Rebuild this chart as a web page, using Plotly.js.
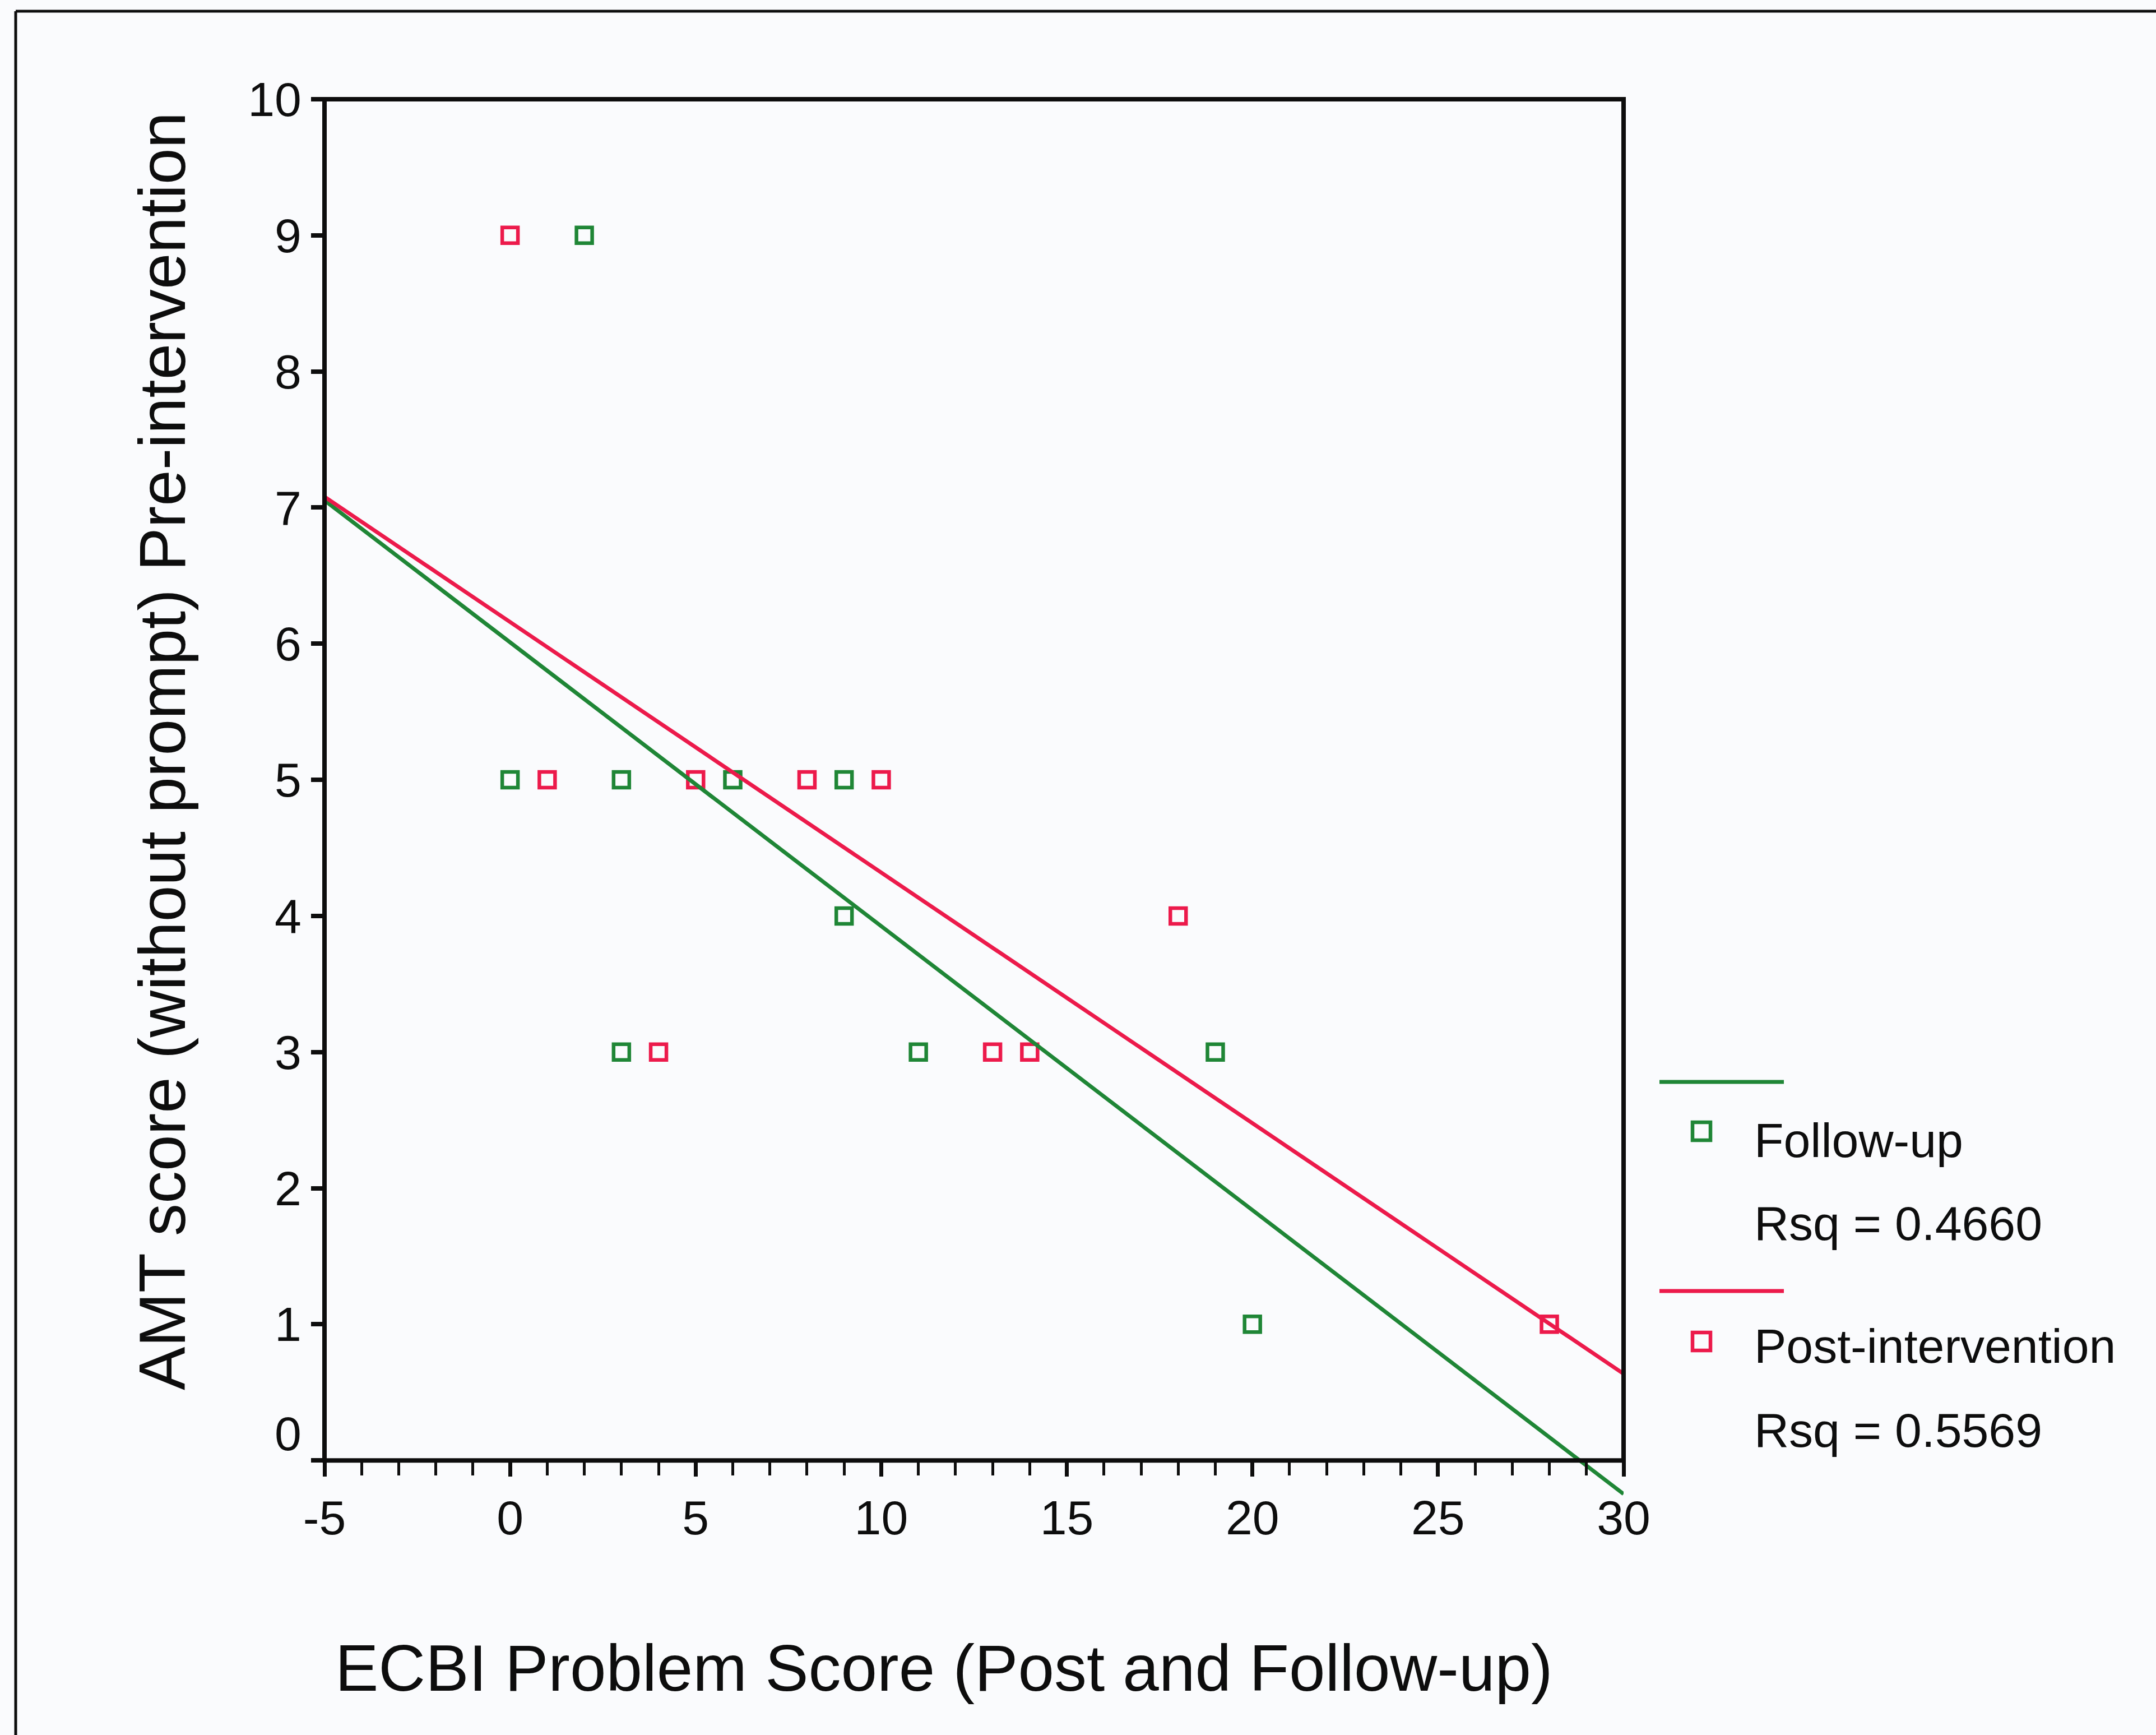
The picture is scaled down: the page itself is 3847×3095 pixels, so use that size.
<!DOCTYPE html>
<html>
<head>
<meta charset="utf-8">
<script src="https://cdn.plot.ly/plotly-3.0.1.min.js"></script>
<style>
  html, body { margin: 0; padding: 0; background: #fafbfd; }
  #chart { width: 3847px; height: 3095px; }
</style>
</head>
<body>
<div id="chart"></div>
<script>
// Scores per child: ECBI problem score (x) against pre-intervention AMT score (y)
const postX   = [0, 1, 4, 5, 8, 10, 13, 14, 18, 28];
const postY   = [9, 5, 3, 5, 5, 5, 3, 3, 4, 1];
const followX = [2, 0, 3, 6, 9, 9, 3, 11, 19, 20];
const followY = [9, 5, 5, 5, 5, 4, 3, 3, 3, 1];

const seriesNames = ['Follow-up', 'Post-intervention'];
const xTickVals = [-5, 0, 5, 10, 15, 20, 25, 30];
const yTickVals = [0, 1, 2, 3, 4, 5, 6, 7, 8, 9, 10];
const xTitle = 'ECBI Problem Score (Post and Follow-up)';
const yTitle = 'AMT score (without prompt) Pre-intervention';

const GREEN = '#1f8636';
const RED = '#ec1a4b';
const INK = '#0d0d0d';
const FONT = 'Liberation Sans, Arial, Helvetica, sans-serif';

// Least-squares line and R squared
function linearFit(xs, ys) {
  const n = xs.length;
  const mx = xs.reduce((a, b) => a + b, 0) / n;
  const my = ys.reduce((a, b) => a + b, 0) / n;
  let sxy = 0, sxx = 0, syy = 0;
  for (let i = 0; i < n; i++) {
    sxy += (xs[i] - mx) * (ys[i] - my);
    sxx += (xs[i] - mx) * (xs[i] - mx);
    syy += (ys[i] - my) * (ys[i] - my);
  }
  const slope = sxy / sxx;
  return { slope, intercept: my - slope * mx, rsq: (sxy * sxy) / (sxx * syy) };
}

const fitFollow = linearFit(followX, followY);
const fitPost = linearFit(postX, postY);

const X_MIN = -5, X_MAX = 30, Y_MIN = -0.3, Y_MAX = 10;
const lineX = [X_MIN, X_MAX];
const lineY = f => lineX.map(x => f.intercept + f.slope * x);

// Page geometry (pixels) and helpers to convert to paper fractions
const W = 3847, H = 3095;
const M = { l: 579, r: 950, t: 177, b: 417 };
const PW = W - M.l - M.r, PH = H - M.t - M.b;
const px = v => (v - M.l) / PW;
const py = v => (H - M.b - v) / PH;
const yFrac = v => (v - Y_MIN) / (Y_MAX - Y_MIN);

const markerStyle = c => ({ symbol: 'square-open', size: 28, color: c, line: { color: c, width: 6.5 } });

const traces = [
  { type: 'scatter', mode: 'markers', name: seriesNames[0], x: followX, y: followY,
    marker: markerStyle(GREEN), cliponaxis: false, showlegend: false },
  { type: 'scatter', mode: 'markers', name: seriesNames[1], x: postX, y: postY,
    marker: markerStyle(RED), cliponaxis: false, showlegend: false },
  { type: 'scatter', mode: 'lines', name: seriesNames[0] + ' fit', x: lineX, y: lineY(fitFollow),
    line: { color: GREEN, width: 7 }, showlegend: false },
  { type: 'scatter', mode: 'lines', name: seriesNames[1] + ' fit', x: lineX, y: lineY(fitPost),
    line: { color: RED, width: 7 }, showlegend: false }
];

// Key on the right: line, marker + name, R squared
const key = [
  { color: GREEN, lineY: 1930, markY: 2018, nameY: 2034, rsqY: 2182, name: seriesNames[0], rsq: fitFollow.rsq },
  { color: RED,   lineY: 2303, markY: 2393, nameY: 2401, rsqY: 2551, name: seriesNames[1], rsq: fitPost.rsq }
];

const shapes = [
  // plot frame from (-5,0) to (30,10)
  { type: 'rect', xref: 'paper', yref: 'paper', x0: 0, x1: 1, y0: yFrac(0), y1: yFrac(10),
    line: { color: INK, width: 8 }, fillcolor: 'rgba(0,0,0,0)', layer: 'above' },
  // outer border of the figure
  { type: 'line', xref: 'paper', yref: 'paper', x0: px(28), x1: px(28), y0: py(20), y1: py(3200),
    line: { color: INK, width: 5 } },
  { type: 'line', xref: 'paper', yref: 'paper', x0: px(28), x1: px(3900), y0: py(20), y1: py(20),
    line: { color: INK, width: 5 } }
];

const annotations = [
  { text: '0', xref: 'paper', yref: 'y', x: px(540), y: 0, yshift: 48, xanchor: 'right', yanchor: 'middle',
    showarrow: false, font: { family: FONT, size: 86, color: INK } },
  { text: xTitle, xref: 'paper', yref: 'paper', x: px(1684), y: py(2976), xanchor: 'center', yanchor: 'middle',
    showarrow: false, font: { family: FONT, size: 116, color: INK } },
  { text: yTitle, xref: 'paper', yref: 'paper', x: px(290), y: py(1340), xanchor: 'center', yanchor: 'middle',
    textangle: -90, showarrow: false, font: { family: FONT, size: 116, color: INK } }
];

key.forEach(k => {
  shapes.push({ type: 'line', xref: 'paper', yref: 'paper', x0: px(2961), x1: px(3183), y0: py(k.lineY), y1: py(k.lineY),
    line: { color: k.color, width: 7 } });
  shapes.push({ type: 'rect', xref: 'paper', yref: 'paper', x0: px(3020), x1: px(3052), y0: py(k.markY - 16), y1: py(k.markY + 16),
    line: { color: k.color, width: 6.5 }, fillcolor: 'rgba(0,0,0,0)' });
  annotations.push({ text: k.name, xref: 'paper', yref: 'paper', x: px(3128), y: py(k.nameY), xanchor: 'left', yanchor: 'middle',
    showarrow: false, font: { family: FONT, size: 86, color: INK } });
  annotations.push({ text: 'Rsq = ' + k.rsq.toFixed(4), xref: 'paper', yref: 'paper', x: px(3128), y: py(k.rsqY), xanchor: 'left', yanchor: 'middle',
    showarrow: false, font: { family: FONT, size: 86, color: INK } });
});

const layout = {
  width: W, height: H,
  margin: { l: M.l, r: M.r, t: M.t, b: M.b, pad: 0 },
  paper_bgcolor: '#fafbfd',
  plot_bgcolor: '#fafbfd',
  showlegend: false,
  xaxis: {
    range: [X_MIN, X_MAX], anchor: 'free', position: yFrac(0),
    tickmode: 'array', tickvals: xTickVals, ticktext: xTickVals.map(v => String(v)),
    ticks: 'outside', ticklen: 28, tickwidth: 7, tickcolor: INK,
    minor: { tick0: -5, dtick: 1, ticks: 'outside', ticklen: 26, tickwidth: 5, tickcolor: INK, showgrid: false },
    showline: false, showgrid: false, zeroline: false,
    tickfont: { family: FONT, size: 86, color: INK },
    fixedrange: true
  },
  yaxis: {
    range: [Y_MIN, Y_MAX],
    tickmode: 'array', tickvals: yTickVals, ticktext: yTickVals.map(v => v === 0 ? '' : String(v)),
    ticks: 'outside', ticklen: 23, tickwidth: 8, tickcolor: INK,
    showline: false, showgrid: false, zeroline: false,
    tickfont: { family: FONT, size: 86, color: INK },
    fixedrange: true
  },
  shapes: shapes,
  annotations: annotations
};

Plotly.newPlot('chart', traces, layout, { staticPlot: true, displayModeBar: false });
</script>
</body>
</html>
